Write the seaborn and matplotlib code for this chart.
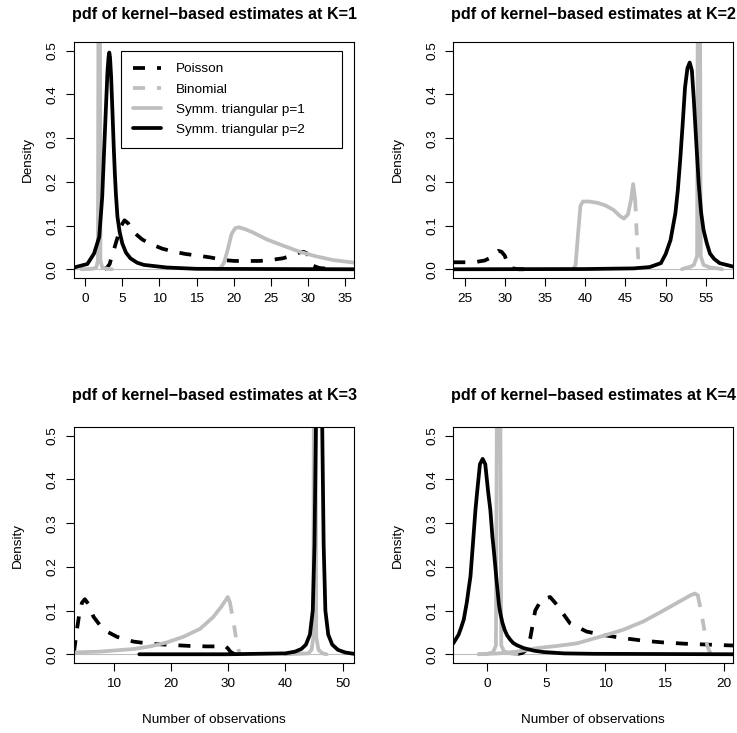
import matplotlib
matplotlib.use("Agg")
import matplotlib.pyplot as plt
import seaborn as sns
from matplotlib.lines import Line2D

sns.set_style("ticks")
plt.rcParams['font.family'] = ['Liberation Sans', 'DejaVu Sans']
plt.rcParams['text.color'] = 'black'

# ---- data (x = number of observations, y = density) ----
# K=1
k1_pois_x = [2.6, 3.0, 3.3, 3.6, 4.0, 4.4, 4.8, 5.3, 5.8, 6.4, 7.0, 7.7, 8.8, 10.4, 12.0, 13.5,
             15.3, 16.9, 18.6, 20.2, 22.0, 23.5, 25.3, 26.6, 27.6, 28.3, 29.0, 29.4, 29.8, 30.3,
             30.7, 31.5, 32.7, 33.5]
k1_pois_y = [0.0, 0.005, 0.012, 0.03, 0.052, 0.075, 0.098, 0.112, 0.105, 0.088, 0.078, 0.068,
             0.058, 0.047, 0.040, 0.035, 0.031, 0.027, 0.021, 0.019, 0.019, 0.019, 0.022, 0.025,
             0.030, 0.035, 0.039, 0.040, 0.037, 0.025, 0.008, 0.003, 0.001, 0.0]
k1_bin_x = [17.6, 18.2, 18.7, 19.2, 19.7, 20.2, 20.7, 21.5, 22.5, 24.5, 26.5, 28.9, 31.0, 33.4, 36.3]
k1_bin_y = [0.0, 0.002, 0.015, 0.045, 0.080, 0.094, 0.096, 0.092, 0.085, 0.068, 0.055, 0.040,
            0.030, 0.021, 0.015]
k1_tri1_x = [-0.5, 1.0, 1.5, 1.72, 1.8, 1.98, 2.06, 2.3, 3.0, 3.6]
k1_tri1_y = [0.0, 0.001, 0.004, 0.02, 0.7, 0.7, 0.02, 0.004, 0.001, 0.0]
k1_tri2_x = [-1.5, 0.3, 1.2, 1.9, 2.3, 2.55, 2.8, 3.0, 3.15, 3.25, 3.35, 3.5, 3.7, 3.85, 4.0,
             4.15, 4.35, 4.65, 5.0, 5.5, 6.1, 7.0, 7.9, 11.0, 15.0, 36.2]
k1_tri2_y = [0.004, 0.012, 0.036, 0.074, 0.166, 0.27, 0.37, 0.45, 0.485, 0.496, 0.485, 0.44,
             0.35, 0.28, 0.219, 0.17, 0.12, 0.085, 0.059, 0.038, 0.025, 0.015, 0.010, 0.004,
             0.001, 0.0]

# K=2
k2_pois_x = [23.6, 24.5, 25.5, 26.5, 27.5, 28.3, 28.8, 29.2, 29.6, 30.0, 30.3, 30.6, 31.0, 31.7, 32.5]
k2_pois_y = [0.016, 0.016, 0.016, 0.017, 0.020, 0.027, 0.036, 0.042, 0.040, 0.031, 0.015, 0.005,
             0.002, 0.0, 0.0]
k2_bin_x = [38.5, 38.8, 39.1, 39.4, 39.7, 40.5, 41.5, 42.5, 43.5, 44.3, 44.8, 45.3, 45.7, 45.95,
            46.2, 46.4, 46.6, 46.8]
k2_bin_y = [0.0, 0.01, 0.08, 0.145, 0.155, 0.155, 0.152, 0.146, 0.136, 0.122, 0.116, 0.125, 0.16,
            0.195, 0.16, 0.08, 0.02, 0.0]
k2_tri1_x = [52.0, 52.5, 53.0, 53.5, 53.9, 54.0, 54.25, 54.35, 54.7, 55.5, 56.5, 57.0]
k2_tri1_y = [0.0, 0.003, 0.005, 0.01, 0.03, 0.7, 0.7, 0.03, 0.01, 0.004, 0.002, 0.0]
k2_tri2_x = [23.6, 40.0, 46.0, 48.0, 49.4, 50.0, 50.6, 51.2, 51.5, 51.8, 52.1, 52.4, 52.7, 52.98,
             53.25, 53.5, 53.8, 54.1, 54.4, 54.7, 55.1, 55.5, 56.0, 56.7, 58.4]
k2_tri2_y = [0.0, 0.0005, 0.002, 0.005, 0.014, 0.035, 0.067, 0.128, 0.18, 0.25, 0.33, 0.416,
             0.46, 0.473, 0.455, 0.386, 0.29, 0.196, 0.13, 0.09, 0.06, 0.036, 0.024, 0.014, 0.006]

# K=3
k3_pois_x = [3.1, 3.3, 3.6, 4.0, 4.5, 5.0, 5.6, 6.5, 7.6, 8.85, 10.6, 12.0, 13.5, 16.4, 20.5, 23.4,
             26.3, 28.6, 29.5, 30.0, 30.4, 31.0, 31.5]
k3_pois_y = [0.005, 0.025, 0.055, 0.09, 0.118, 0.126, 0.115, 0.086, 0.067, 0.052, 0.040, 0.034,
             0.029, 0.024, 0.021, 0.019, 0.018, 0.018, 0.019, 0.013, 0.006, 0.001, 0.0]
k3_bin_x = [3.1, 5.0, 7.6, 10.5, 13.5, 16.4, 19.3, 22.2, 25.1, 27.4, 28.9, 29.5, 29.95, 30.3,
            30.9, 31.3, 31.6, 32.0]
k3_bin_y = [0.004, 0.005, 0.006, 0.009, 0.012, 0.018, 0.027, 0.040, 0.058, 0.085, 0.11, 0.122,
            0.131, 0.12, 0.079, 0.045, 0.025, 0.0]
k3_tri1_x = [40.0, 44.0, 44.6, 44.9, 45.0, 45.3, 45.4, 45.8, 46.5, 47.2]
k3_tri1_y = [0.0, 0.002, 0.01, 0.04, 0.7, 0.7, 0.04, 0.01, 0.002, 0.0]
k3_tri2_x = [14.5, 30.0, 40.0, 41.7, 42.8, 43.6, 44.3, 44.8, 45.1, 45.35, 45.9, 46.45, 46.7, 47.0,
             47.5, 48.2, 49.2, 50.5, 52.0]
k3_tri2_y = [0.0, 0.0, 0.002, 0.006, 0.012, 0.022, 0.045, 0.1, 0.25, 0.52, 0.95, 0.52, 0.25, 0.1,
             0.045, 0.022, 0.01, 0.004, 0.001]

# K=4
k4_pois_x = [2.4, 3.0, 3.4, 3.65, 4.07, 4.6, 5.33, 5.9, 7.0, 8.4, 9.8, 11.5, 13.2, 14.9, 16.8,
             19.7, 20.8]
k4_pois_y = [0.0, 0.003, 0.012, 0.037, 0.100, 0.125, 0.131, 0.113, 0.071, 0.052, 0.044, 0.037,
             0.031, 0.027, 0.024, 0.021, 0.020]
k4_bin_x = [-0.7, 1.0, 2.5, 4.2, 5.9, 7.6, 9.8, 11.5, 13.2, 14.9, 16.6, 17.2, 17.55, 17.8, 18.0,
            18.2, 18.4, 18.6, 18.8, 19.2]
k4_bin_y = [0.0, 0.002, 0.006, 0.014, 0.019, 0.025, 0.042, 0.056, 0.075, 0.100, 0.126, 0.135,
            0.139, 0.135, 0.109, 0.08, 0.048, 0.02, 0.005, 0.0]
k4_tri1_x = [-0.7, 0.0, 0.5, 0.75, 0.85, 1.1, 1.2, 1.45, 2.0, 2.5]
k4_tri1_y = [0.0, 0.001, 0.004, 0.02, 0.7, 0.7, 0.02, 0.006, 0.002, 0.0]
k4_tri2_x = [-2.85, -2.4, -2.2, -1.97, -1.7, -1.55, -1.4, -1.2, -0.98, -0.84, -0.6, -0.37, -0.15,
             0.1, 0.28, 0.45, 0.6, 0.8, 1.0, 1.12, 1.3, 1.5, 1.7, 1.97, 2.2, 2.5, 3.1, 4.0, 4.8,
             6.5, 9.0, 20.8]
k4_tri2_y = [0.025, 0.045, 0.06, 0.079, 0.12, 0.15, 0.178, 0.25, 0.33, 0.37, 0.435, 0.447, 0.435,
             0.37, 0.33, 0.27, 0.23, 0.17, 0.115, 0.094, 0.072, 0.055, 0.043, 0.033, 0.026,
             0.021, 0.014, 0.008, 0.005, 0.002, 0.001, 0.0]

k_values = [1, 2, 3, 4]
x_limits = [(-1.5, 36.2), (23.6, 58.4), (3.1, 52.0), (-2.85, 20.8)]
x_ticks = [[0, 5, 10, 15, 20, 25, 30, 35], [25, 30, 35, 40, 45, 50, 55],
           [10, 20, 30, 40, 50], [0, 5, 10, 15, 20]]
y_ticks = [0.0, 0.1, 0.2, 0.3, 0.4, 0.5]

curves = [
    (k1_pois_x, k1_pois_y, k1_bin_x, k1_bin_y, k1_tri1_x, k1_tri1_y, k1_tri2_x, k1_tri2_y),
    (k2_pois_x, k2_pois_y, k2_bin_x, k2_bin_y, k2_tri1_x, k2_tri1_y, k2_tri2_x, k2_tri2_y),
    (k3_pois_x, k3_pois_y, k3_bin_x, k3_bin_y, k3_tri1_x, k3_tri1_y, k3_tri2_x, k3_tri2_y),
    (k4_pois_x, k4_pois_y, k4_bin_x, k4_bin_y, k4_tri1_x, k4_tri1_y, k4_tri2_x, k4_tri2_y),
]

# ---- style ----
W, H = 737, 733
LW = 2.7
GRAY = '#BEBEBE'
DASH = (0, (3.2, 3.2))
FS = 9.7
bin_dash_from = [None, 46.0, 30.0, 17.6]      # the falling tail of the binomial shows its dashes
ax_px = [(74, 42), (453.3, 42), (74, 427), (453.3, 427)]   # left, top of each plot box
ax_wh = (280, 236)
ylabel_x = [28, 398, 18, 398]

fig = plt.figure(figsize=(W / 100, H / 100), dpi=100)


def line(ax, xs, ys, color, ls='-'):
    sns.lineplot(x=xs, y=ys, ax=ax, color=color, lw=LW, linestyle=ls,
                 estimator=None, sort=False, solid_capstyle='round', dash_capstyle='butt')


for i, k in enumerate(k_values):
    left, top = ax_px[i]
    ax = fig.add_axes([left / W, 1 - (top + ax_wh[1]) / H, ax_wh[0] / W, ax_wh[1] / H])
    px, py, bx, by, t1x, t1y, t2x, t2y = curves[i]

    ax.axhline(0, color=GRAY, lw=0.8, zorder=1)
    line(ax, px, py, 'black', DASH)
    cut = bin_dash_from[i]
    if cut is None:
        line(ax, bx, by, GRAY)
    else:
        n = next(j for j, v in enumerate(bx) if v >= cut)
        line(ax, bx[:n + 1], by[:n + 1], GRAY)
        line(ax, bx[n:], by[n:], GRAY, DASH)
    line(ax, t1x, t1y, GRAY)
    line(ax, t2x, t2y, 'black')

    ax.set_xlim(*x_limits[i])
    ax.set_ylim(-0.02, 0.52)
    ax.set_xticks(x_ticks[i])
    ax.set_yticks(y_ticks)
    ax.set_yticklabels([f'{v:.1f}' for v in y_ticks])
    ax.set_xlabel('')
    ax.set_ylabel('')
    for s in ax.spines.values():
        s.set_color('black')
        s.set_linewidth(0.8)
    ax.tick_params(length=5.8, width=0.8, colors='black', labelsize=FS, pad=5)
    ax.tick_params(axis='y', labelrotation=90)
    for t in ax.get_yticklabels():
        t.set_verticalalignment('center')

    cx = left + ax_wh[0] / 2
    fig.text(cx / W, 1 - (top - 27 if i < 2 else top - 32) / H,
             f'pdf of kernel\u2212based estimates at K={k}',
             ha='center', va='center', fontsize=FS * 1.2, fontweight='bold')
    fig.text(ylabel_x[i] / W, 1 - (top + ax_wh[1] / 2) / H, 'Density',
             rotation=90, ha='center', va='center', fontsize=FS)
    if i >= 2:
        fig.text(cx / W, 1 - 720 / H, 'Number of observations',
                 ha='center', va='center', fontsize=FS)

    if i == 0:
        handles = [Line2D([], [], color='black', lw=LW, linestyle=DASH),
                   Line2D([], [], color=GRAY, lw=LW, linestyle=DASH),
                   Line2D([], [], color=GRAY, lw=LW),
                   Line2D([], [], color='black', lw=LW)]
        labels = ['Poisson', 'Binomial', 'Symm. triangular p=1', 'Symm. triangular p=2']
        leg = ax.legend(handles, labels, loc='upper left',
                        bbox_to_anchor=(0.167, 0.963, 0.789, 0.0), mode='expand',
                        borderaxespad=0, fontsize=FS, handlelength=2.1,
                        handletextpad=1.1, labelspacing=0.58, borderpad=0.9,
                        fancybox=False, framealpha=1)
        leg.get_frame().set_edgecolor('black')
        leg.get_frame().set_linewidth(0.8)

fig.savefig('out.png', dpi=100)
